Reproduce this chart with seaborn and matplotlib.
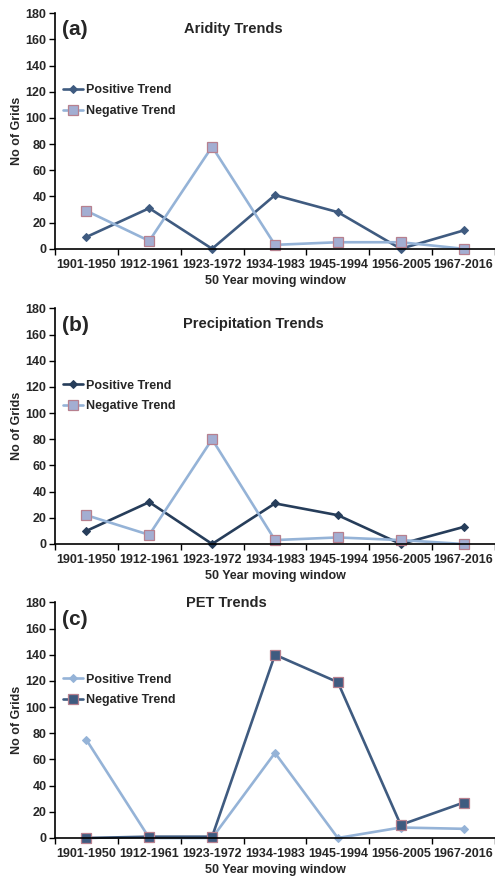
import pandas as pd
import seaborn as sns
import matplotlib.pyplot as plt
from matplotlib.ticker import FixedLocator

windows = ['1901-1950', '1912-1961', '1923-1972', '1934-1983',
           '1945-1994', '1956-2005', '1967-2016']

aridity_pos = [9, 31, 0, 41, 28, 0, 14]
aridity_neg = [29, 6, 78, 3, 5, 5, 0]
precip_pos = [10, 32, 0, 31, 22, 0, 13]
precip_neg = [22, 7, 80, 3, 5, 3, 0]
pet_pos = [75, 0, 0, 65, 0, 8, 7]
pet_neg = [0, 1, 1, 140, 119, 10, 27]

sns.set_style('ticks')
plt.rcParams['font.family'] = ['Liberation Sans', 'DejaVu Sans']
plt.rcParams['font.weight'] = 'bold'

DARK_A = '#3f5b80'
DARK_B = '#263d5a'
LIGHT = '#95b3d7'
SQ_FILL = '#a3aed2'
SQ_EDGE = '#b7808f'
FS = 9

panels = [
    dict(tag='(a)', title='Aridity Trends', pos=aridity_pos, neg=aridity_neg,
         pos_style=(DARK_A, DARK_A), neg_style=(LIGHT, SQ_FILL),
         rect=[0.111, 0.716, 0.889, 0.269], title_xy=(0.405, 0.932), tag_y=0.932),
    dict(tag='(b)', title='Precipitation Trends', pos=precip_pos, neg=precip_neg,
         pos_style=(DARK_B, DARK_B), neg_style=(LIGHT, SQ_FILL),
         rect=[0.111, 0.379, 0.889, 0.269], title_xy=(0.452, 0.932), tag_y=0.928),
    dict(tag='(c)', title='PET Trends', pos=pet_pos, neg=pet_neg,
         pos_style=(LIGHT, LIGHT), neg_style=(DARK_A, DARK_A),
         rect=[0.111, 0.0434, 0.889, 0.269], title_xy=(0.39, 0.996), tag_y=0.928),
]

fig = plt.figure(figsize=(4.95, 8.76), dpi=100)

for p in panels:
    ax = fig.add_axes(p['rect'])
    df = pd.DataFrame({'window': windows, 'pos': p['pos'], 'neg': p['neg']})

    pc, pm = p['pos_style']
    nc, nm = p['neg_style']
    sns.lineplot(data=df, x='window', y='pos', sort=False, ax=ax, color=pc,
                 marker='D', markersize=4.5, markerfacecolor=pm, markeredgecolor=pm,
                 linewidth=1.9, label='Positive Trend', clip_on=False)
    sns.lineplot(data=df, x='window', y='neg', sort=False, ax=ax, color=nc,
                 marker='s', markersize=6.5, markerfacecolor=nm, markeredgecolor=SQ_EDGE,
                 markeredgewidth=0.9, linewidth=1.9, label='Negative Trend', clip_on=False)

    ax.set_xlim(-0.5, 6.5)
    ax.set_ylim(0, 180)
    ax.set_yticks(range(0, 181, 20))
    ax.set_xticks(range(len(windows)))
    ax.set_xticklabels(windows)
    ax.xaxis.set_minor_locator(FixedLocator([i - 0.5 for i in range(len(windows) + 1)]))
    ax.tick_params(axis='x', which='major', length=0, labelsize=FS, pad=7)
    ax.tick_params(axis='x', which='minor', length=4, width=1, color='black', direction='out')
    ax.tick_params(axis='y', length=4, width=1, color='black', labelsize=FS, pad=2)
    for lab in ax.get_xticklabels() + ax.get_yticklabels():
        lab.set_fontweight('bold')

    sns.despine(ax=ax)
    for s in ('left', 'bottom'):
        ax.spines[s].set_color('black')
        ax.spines[s].set_linewidth(1.2)

    ax.set_xlabel('50 Year moving window', fontsize=FS, fontweight='bold', labelpad=3)
    ax.set_ylabel('No of Grids', fontsize=FS, fontweight='bold', labelpad=2)

    ax.text(p['title_xy'][0], p['title_xy'][1], p['title'], transform=ax.transAxes,
            ha='center', va='center', fontsize=10.5, fontweight='bold')
    ax.text(0.016, p['tag_y'], p['tag'], transform=ax.transAxes,
            ha='left', va='center', fontsize=15, fontweight='bold')

    leg = ax.legend(loc='center left', bbox_to_anchor=(0.018, 0.628), frameon=False,
                    fontsize=FS, handlelength=1.6, handletextpad=0.25,
                    labelspacing=0.7, borderaxespad=0, borderpad=0)
    for t in leg.get_texts():
        t.set_fontweight('bold')

fig.savefig('out.png', dpi=100)
